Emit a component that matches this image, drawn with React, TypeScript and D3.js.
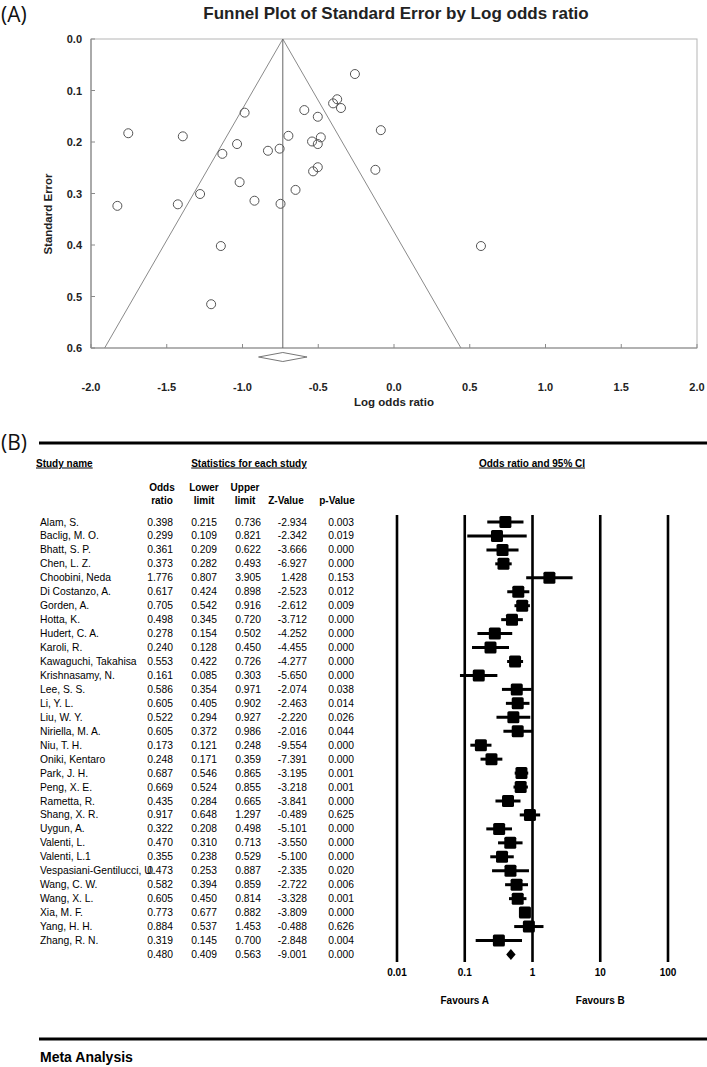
import React from "react";
import * as d3 from "d3";

// ---------- Data ----------
const studyNames = [
  "Alam, S.", "Baclig, M. O.", "Bhatt, S. P.", "Chen, L. Z.", "Choobini, Neda",
  "Di Costanzo, A.", "Gorden, A.", "Hotta, K.", "Hudert, C. A.", "Karoli, R.",
  "Kawaguchi, Takahisa", "Krishnasamy, N.", "Lee, S. S.", "Li, Y. L.", "Liu, W. Y.",
  "Niriella, M. A.", "Niu, T. H.", "Oniki, Kentaro", "Park, J. H.", "Peng, X. E.",
  "Rametta, R.", "Shang, X. R.", "Uygun, A.", "Valenti, L.", "Valenti, L.1",
  "Vespasiani-Gentilucci, U.", "Wang, C. W.", "Wang, X. L.", "Xia, M. F.", "Yang, H. H.",
  "Zhang, R. N.",
];
const oddsRatios = [0.398, 0.299, 0.361, 0.373, 1.776, 0.617, 0.705, 0.498, 0.278, 0.240, 0.553, 0.161, 0.586, 0.605, 0.522, 0.605, 0.173, 0.248, 0.687, 0.669, 0.435, 0.917, 0.322, 0.470, 0.355, 0.473, 0.582, 0.605, 0.773, 0.884, 0.319];
const lowerLimits = [0.215, 0.109, 0.209, 0.282, 0.807, 0.424, 0.542, 0.345, 0.154, 0.128, 0.422, 0.085, 0.354, 0.405, 0.294, 0.372, 0.121, 0.171, 0.546, 0.524, 0.284, 0.648, 0.208, 0.310, 0.238, 0.253, 0.394, 0.450, 0.677, 0.537, 0.145];
const upperLimits = [0.736, 0.821, 0.622, 0.493, 3.905, 0.898, 0.916, 0.720, 0.502, 0.450, 0.726, 0.303, 0.971, 0.902, 0.927, 0.986, 0.248, 0.359, 0.865, 0.855, 0.665, 1.297, 0.498, 0.713, 0.529, 0.887, 0.859, 0.814, 0.882, 1.453, 0.700];
const zValues = [-2.934, -2.342, -3.666, -6.927, 1.428, -2.523, -2.612, -3.712, -4.252, -4.455, -4.277, -5.650, -2.074, -2.463, -2.220, -2.016, -9.554, -7.391, -3.195, -3.218, -3.841, -0.489, -5.101, -3.550, -5.100, -2.335, -2.722, -3.328, -3.809, -0.488, -2.848];
const pValues = [0.003, 0.019, 0.000, 0.000, 0.153, 0.012, 0.009, 0.000, 0.000, 0.000, 0.000, 0.000, 0.038, 0.014, 0.026, 0.044, 0.000, 0.000, 0.001, 0.001, 0.000, 0.625, 0.000, 0.000, 0.000, 0.020, 0.006, 0.001, 0.000, 0.626, 0.004];
const summaryStats = [0.480, 0.409, 0.563, -9.001, 0.000];

// Funnel plot points (log odds ratio, standard error)
const logOddsRatios = [-0.921, -1.207, -1.019, -0.986, 0.574, -0.483, -0.350, -0.697, -1.280, -1.427, -0.592, -1.826, -0.534, -0.503, -0.650, -0.503, -1.754, -1.394, -0.375, -0.402, -0.832, -0.087, -1.133, -0.755, -1.036, -0.749, -0.541, -0.503, -0.258, -0.123, -1.143];
const standardErrors = [0.314, 0.515, 0.278, 0.143, 0.402, 0.191, 0.134, 0.188, 0.301, 0.321, 0.138, 0.324, 0.257, 0.204, 0.293, 0.249, 0.183, 0.189, 0.117, 0.125, 0.217, 0.177, 0.223, 0.213, 0.204, 0.320, 0.199, 0.151, 0.068, 0.254, 0.402];
const summaryLogOR = -0.734;
const summaryLogLower = -0.894;
const summaryLogUpper = -0.574;

const funnelXTicks = [-2.0, -1.5, -1.0, -0.5, 0.0, 0.5, 1.0, 1.5, 2.0];
const funnelYTicks = [0.0, 0.1, 0.2, 0.3, 0.4, 0.5, 0.6];
const forestTicks = [0.01, 0.1, 1, 10, 100];
const forestTickLabels = ["0.01", "0.1", "1", "10", "100"];

const FONT = "'Liberation Sans', Arial, Helvetica, sans-serif";

export default function App() {
  const W = 707, H = 1067;
  const xF = d3.scaleLinear().domain([-2, 2]).range([91, 697]);
  const yF = d3.scaleLinear().domain([0, 0.6]).range([39, 348]);
  const xL = d3.scaleLog().domain([0.01, 100]).range([397, 668]);
  const yR = d3.scaleLinear().domain([0, 1]).range([522, 535.95]);
  const f3 = d3.format(".3f");
  const fmtNum = (v: number) => f3(v).replace("\u2212", "-");

  const funnelLeft = summaryLogOR - 1.96 * 0.6;
  const funnelRight = summaryLogOR + 1.96 * 0.6;
  const gray = "#8a8a8a";

  const colRight = [173, 217, 261, 307, 354];
  const rowCols = (i: number) => [oddsRatios[i], lowerLimits[i], upperLimits[i], zValues[i], pValues[i]];
  const nRows = studyNames.length;
  const sumY = yR(nRows);

  const diamondPath = (cx: number, x0: number, x1: number, cy: number, h: number) =>
    `M${x0},${cy} L${cx},${cy - h} L${x1},${cy} L${cx},${cy + h} Z`;

  return (
    <svg width={W} height={H} style={{ display: "block", position: "absolute", left: 0, top: 0, background: "#fff" }} fontFamily={FONT}>
      <rect x={0} y={0} width={W} height={H} fill="#fff" />
      {/* ===== (A) Funnel plot ===== */}
      <text x={1} y={22} fontSize={21} fontFamily="'Open Sans', sans-serif" fill="#111">(A)</text>
      <text x={396} y={19} fontSize={17} fontWeight="bold" textAnchor="middle" fill="#222">
        Funnel Plot of Standard Error by Log odds ratio
      </text>
      <rect x={xF(-2)} y={yF(0)} width={xF(2) - xF(-2)} height={yF(0.6) - yF(0)} fill="none" stroke="#b5b5b5" strokeWidth={1} />
      <line x1={xF(-2)} x2={xF(2)} y1={yF(0.6)} y2={yF(0.6)} stroke={gray} strokeWidth={1.2} />
      <line x1={xF(-2)} x2={xF(-2)} y1={yF(0)} y2={yF(0.6)} stroke={gray} strokeWidth={1.2} />
      {funnelXTicks.map((t) => (
        <g key={"fx" + t}>
          <line x1={xF(t)} x2={xF(t)} y1={yF(0.6)} y2={yF(0.6) - 4} stroke={gray} />
          <text x={xF(t)} y={391} fontSize={11} fontWeight="bold" textAnchor="middle" fill="#222">
            {t.toFixed(1)}
          </text>
        </g>
      ))}
      {funnelYTicks.map((t) => (
        <g key={"fy" + t}>
          <line x1={xF(-2)} x2={xF(-2) + 4} y1={yF(t)} y2={yF(t)} stroke={gray} />
          <text x={82} y={yF(t) + 4} fontSize={11} fontWeight="bold" textAnchor="end" fill="#222">
            {t.toFixed(1)}
          </text>
        </g>
      ))}
      <text x={394} y={406} fontSize={11.5} fontWeight="bold" textAnchor="middle" fill="#222">Log odds ratio</text>
      <text transform={`translate(52,214) rotate(-90)`} fontSize={11.5} fontWeight="bold" textAnchor="middle" fill="#222">
        Standard Error
      </text>
      {/* funnel lines */}
      <line x1={xF(summaryLogOR)} y1={yF(0)} x2={xF(funnelLeft)} y2={yF(0.6)} stroke={gray} strokeWidth={1} />
      <line x1={xF(summaryLogOR)} y1={yF(0)} x2={xF(funnelRight)} y2={yF(0.6)} stroke={gray} strokeWidth={1} />
      <line x1={xF(summaryLogOR)} y1={yF(0)} x2={xF(summaryLogOR)} y2={yF(0.6)} stroke="#666" strokeWidth={1} />
      {logOddsRatios.map((v, i) => (
        <circle key={"pt" + i} cx={xF(v)} cy={yF(standardErrors[i])} r={4.5} fill="none" stroke="#555" strokeWidth={1} />
      ))}
      <path d={diamondPath(xF(summaryLogOR), xF(summaryLogLower), xF(summaryLogUpper), 357, 4.5)} fill="none" stroke="#777" strokeWidth={1} />

      {/* ===== (B) Forest plot ===== */}
      <text x={1} y={450} fontSize={21} fontFamily="'Open Sans', sans-serif" fill="#111">(B)</text>
      <line x1={39} x2={707} y1={443} y2={443} stroke="#000" strokeWidth={3} />
      <text x={36} y={466.5} fontSize={10} fontWeight="bold" fill="#000" textDecoration="underline">Study name</text>
      <text x={249} y={466.5} fontSize={10} fontWeight="bold" fill="#000" textAnchor="middle" textDecoration="underline">Statistics for each study</text>
      <text x={532} y={466.5} fontSize={10} fontWeight="bold" fill="#000" textAnchor="middle" textDecoration="underline">Odds ratio and 95% CI</text>
      <g fontSize={10} fontWeight="bold" fill="#000" textAnchor="middle">
        <text x={162} y={490.5}>Odds</text>
        <text x={162} y={503.5}>ratio</text>
        <text x={204} y={490.5}>Lower</text>
        <text x={204} y={503.5}>limit</text>
        <text x={245} y={490.5}>Upper</text>
        <text x={245} y={503.5}>limit</text>
        <text x={286} y={503.5}>Z-Value</text>
        <text x={337} y={503.5}>p-Value</text>
      </g>
      {/* table rows */}
      <g fontSize={10.3} fill="#000">
        {studyNames.map((name, i) => (
          <g key={"row" + i}>
            <text x={40} y={yR(i) + 3.5}>{name}</text>
            {rowCols(i).map((v, j) => (
              <text key={j} x={colRight[j]} y={yR(i) + 3.5} textAnchor="end">{fmtNum(v)}</text>
            ))}
          </g>
        ))}
        {summaryStats.map((v, j) => (
          <text key={"s" + j} x={colRight[j]} y={sumY + 3.5} textAnchor="end">{fmtNum(v)}</text>
        ))}
      </g>
      {/* forest vertical lines */}
      {forestTicks.map((t, k) => (
        <g key={"ft" + t}>
          <line x1={xL(t)} x2={xL(t)} y1={515} y2={962} stroke="#000" strokeWidth={2.6} />
          <text x={xL(t)} y={975.5} fontSize={10} fontWeight="bold" textAnchor="middle" fill="#000">{forestTickLabels[k]}</text>
        </g>
      ))}
      {studyNames.map((_, i) => (
        <g key={"ci" + i}>
          <line x1={xL(lowerLimits[i])} x2={xL(upperLimits[i])} y1={yR(i)} y2={yR(i)} stroke="#000" strokeWidth={3} />
          <rect x={xL(oddsRatios[i]) - 6} y={yR(i) - 6} width={12} height={12} fill="#000" rx={1.5} />
        </g>
      ))}
      <path d={diamondPath(xL(summaryStats[0]), xL(summaryStats[1]), xL(summaryStats[2]), sumY, 5.5)} fill="#000" />
      <text x={xL(0.1)} y={1003.5} fontSize={10} fontWeight="bold" textAnchor="middle" fill="#000">Favours A</text>
      <text x={xL(10)} y={1003.5} fontSize={10} fontWeight="bold" textAnchor="middle" fill="#000">Favours B</text>
      <line x1={39} x2={707} y1={1039} y2={1039} stroke="#000" strokeWidth={3} />
      <text x={40} y={1062} fontSize={14} fontWeight="bold" fill="#000">Meta Analysis</text>
    </svg>
  );
}
